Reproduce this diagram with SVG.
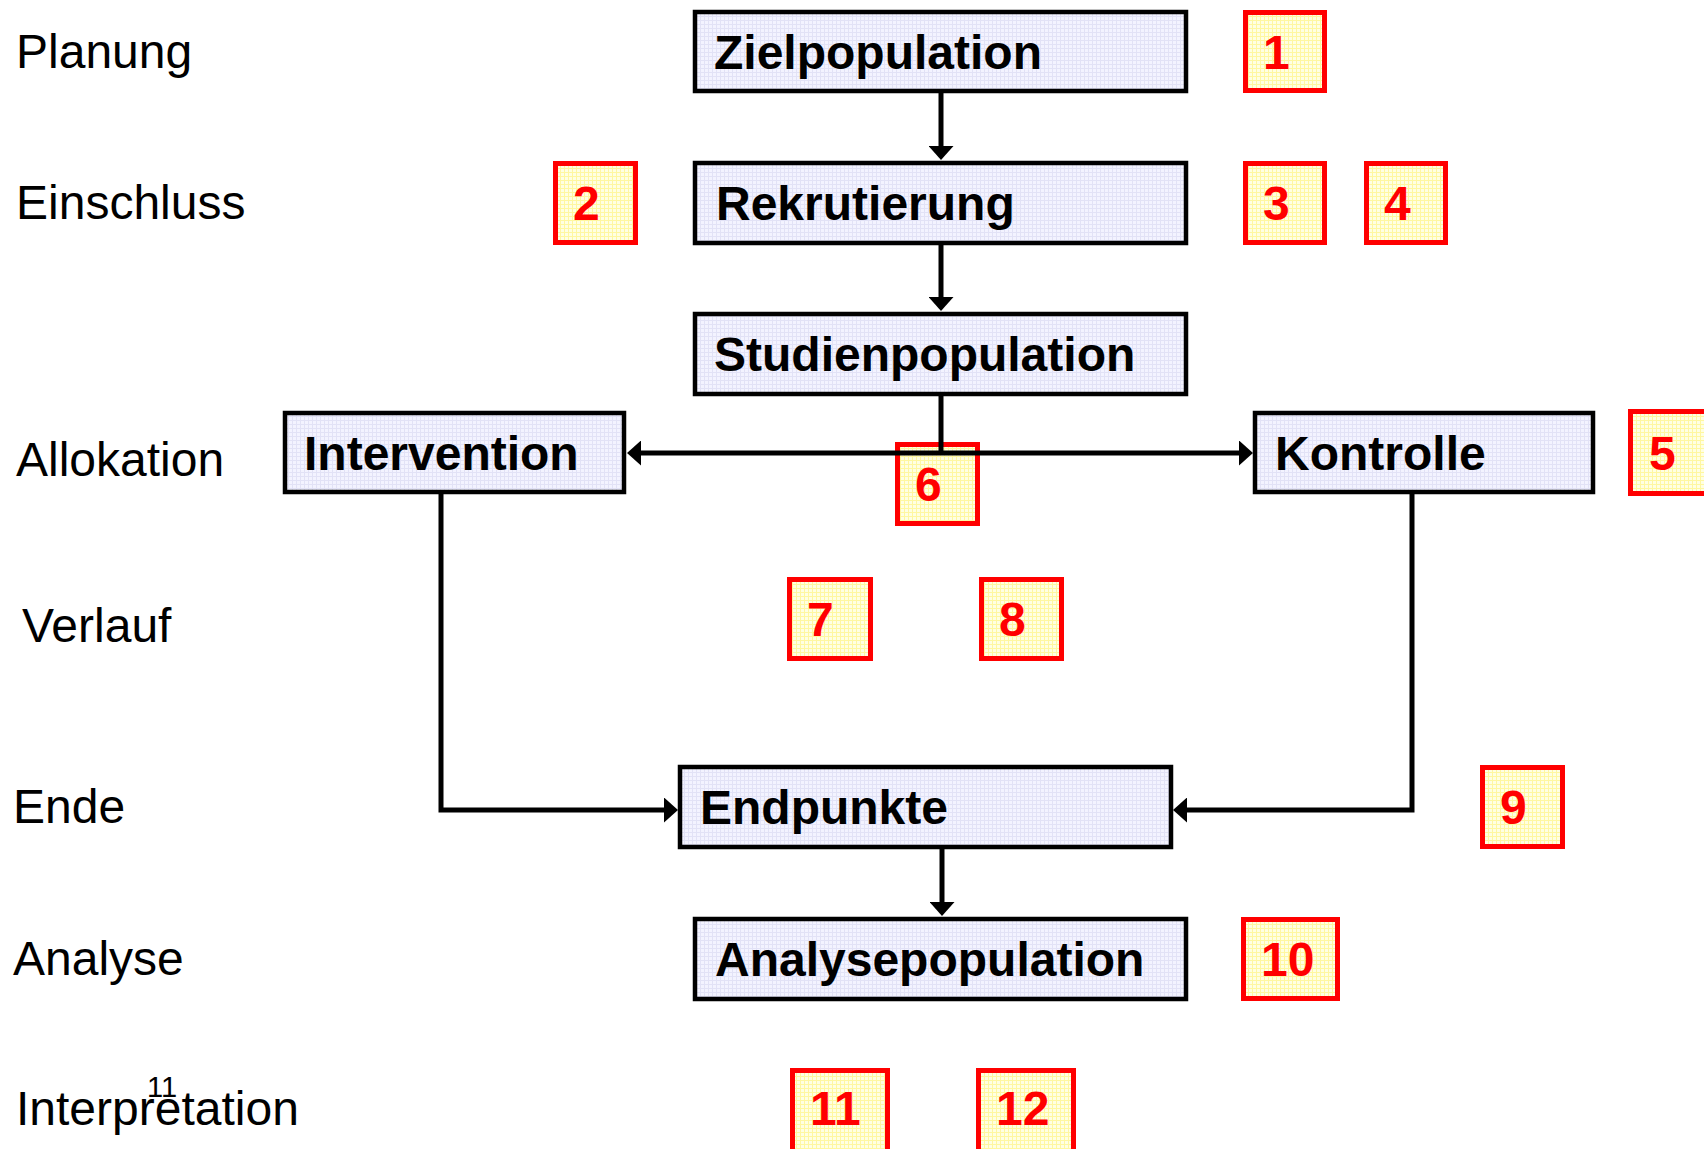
<svg xmlns="http://www.w3.org/2000/svg" width="1704" height="1149" viewBox="0 0 1704 1149">
  <defs>
    <!-- fine grid textures used as box fills -->
    <pattern id="gridBlue" width="4" height="4" patternUnits="userSpaceOnUse">
      <rect width="4" height="4" fill="#F3F3FF"/>
      <path d="M0,0.5 H4 M0.5,0 V4" stroke="#E2E2F6" stroke-width="1"/>
    </pattern>
    <pattern id="gridYellow" width="4" height="4" patternUnits="userSpaceOnUse">
      <rect width="4" height="4" fill="#FFFFE2"/>
      <path d="M0,0.5 H4 M0.5,0 V4" stroke="#FFF7A0" stroke-width="1"/>
    </pattern>
    <marker id="arrow" viewBox="0 0 14 25" markerWidth="14" markerHeight="25" refX="6" refY="12.5" orient="auto-start-reverse" markerUnits="userSpaceOnUse">
      <path d="M0,0 L14,12.5 L0,25 z" fill="#000"/>
    </marker>
    <style>
      .stage { font-family: "Liberation Sans", Arial, sans-serif; font-size: 48px; fill: #000; }
      .node rect { fill: url(#gridBlue); stroke: #000; stroke-width: 4.5; }
      .node text { font-family: "Liberation Sans", Arial, sans-serif; font-weight: bold; font-size: 48px; fill: #000; }
      .num rect { fill: url(#gridYellow); stroke: #FF0000; stroke-width: 5; }
      .num text { font-family: "Liberation Sans", Arial, sans-serif; font-weight: bold; font-size: 48px; fill: #FF0000; }
      .conn { fill: none; stroke: #000; stroke-width: 5; stroke-linejoin: miter; }
    </style>
  </defs>

  <rect width="1704" height="1149" fill="#FFFFFF"/>

  <!-- phase labels down the left side -->
  <g id="stages">
    <text class="stage" x="16" y="68">Planung</text>
    <text class="stage" x="16" y="219">Einschluss</text>
    <text class="stage" x="16" y="476">Allokation</text>
    <text class="stage" x="22" y="642">Verlauf</text>
    <text class="stage" x="13" y="823">Ende</text>
    <text class="stage" x="13" y="975">Analyse</text>
    <text class="stage" x="16" y="1125">Interpretation</text>
    <text x="147" y="1097" font-family="Liberation Sans, Arial, sans-serif" font-size="29" fill="#000">11</text>
  </g>

  <!-- flow nodes -->
  <g id="zielpopulation" class="node">
    <rect x="695" y="12" width="491" height="79"/>
    <text x="714" y="68.5">Zielpopulation</text>
  </g>
  <g id="rekrutierung" class="node">
    <rect x="695" y="163" width="491" height="80"/>
    <text x="716" y="220">Rekrutierung</text>
  </g>
  <g id="studienpopulation" class="node">
    <rect x="695" y="314" width="491" height="80"/>
    <text x="714" y="371">Studienpopulation</text>
  </g>
  <g id="intervention" class="node">
    <rect x="285" y="413" width="339" height="79"/>
    <text x="304" y="469.5">Intervention</text>
  </g>
  <g id="kontrolle" class="node">
    <rect x="1255" y="413" width="338" height="79"/>
    <text x="1275" y="469.5">Kontrolle</text>
  </g>
  <g id="endpunkte" class="node">
    <rect x="680" y="767" width="491" height="80"/>
    <text x="700" y="824">Endpunkte</text>
  </g>
  <g id="analysepopulation" class="node">
    <rect x="695" y="919" width="491" height="80"/>
    <text x="715" y="976">Analysepopulation</text>
  </g>

  <!-- numbered markers -->
  <g id="n1" class="num"><rect x="1245.5" y="12.5" width="79" height="78"/><text x="1263" y="69">1</text></g>
  <g id="n2" class="num"><rect x="555.5" y="163.5" width="80" height="79"/><text x="573" y="220">2</text></g>
  <g id="n3" class="num"><rect x="1245.5" y="163.5" width="79" height="79"/><text x="1263" y="220">3</text></g>
  <g id="n4" class="num"><rect x="1366.5" y="163.5" width="79" height="79"/><text x="1384" y="220">4</text></g>
  <g id="n5" class="num"><rect x="1630.5" y="411.5" width="84" height="82"/><text x="1649" y="469.5">5</text></g>
  <g id="n6" class="num"><rect x="897.5" y="444.5" width="80" height="79"/><text x="915" y="501">6</text></g>
  <g id="n7" class="num"><rect x="789.5" y="579.5" width="81" height="79"/><text x="807" y="636">7</text></g>
  <g id="n8" class="num"><rect x="981.5" y="579.5" width="80" height="79"/><text x="999" y="636">8</text></g>
  <g id="n9" class="num"><rect x="1482.5" y="767.5" width="80" height="79"/><text x="1500" y="824">9</text></g>
  <g id="n10" class="num"><rect x="1243.5" y="919.5" width="94" height="79"/><text x="1261" y="976">10</text></g>
  <g id="n11" class="num"><rect x="792.5" y="1070.5" width="95" height="90"/><text x="810" y="1125">11</text></g>
  <g id="n12" class="num"><rect x="978.5" y="1070.5" width="95" height="90"/><text x="996" y="1125">12</text></g>

  <!-- connectors -->
  <g id="connectors">
    <path class="conn" d="M941,93 V152" marker-end="url(#arrow)"/>
    <path class="conn" d="M941,245 V303" marker-end="url(#arrow)"/>
    <path class="conn" d="M941,396 V453"/>
    <path class="conn" d="M635,453 H1245" marker-start="url(#arrow)" marker-end="url(#arrow)"/>
    <path class="conn" d="M441,494 V810 H670" marker-end="url(#arrow)"/>
    <path class="conn" d="M1412,494 V810 H1181" marker-end="url(#arrow)"/>
    <path class="conn" d="M942,849 V908" marker-end="url(#arrow)"/>
  </g>
</svg>
